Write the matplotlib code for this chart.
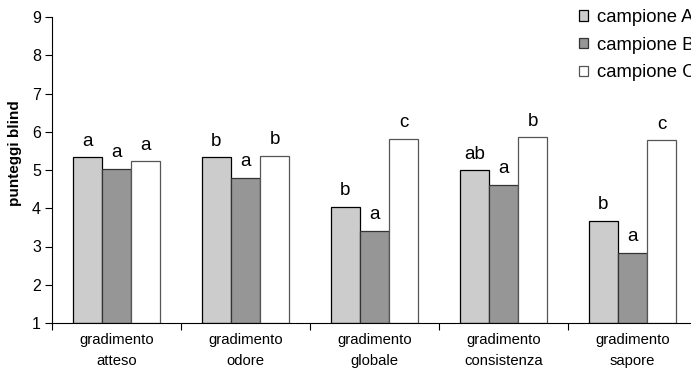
import matplotlib
matplotlib.use("Agg")
import matplotlib.pyplot as plt
import numpy as np

categories = ["gradimento\natteso", "gradimento\nodore", "gradimento\nglobale",
              "gradimento\nconsistenza", "gradimento\nsapore"]
series_names = ["campione A", "campione B", "campione C"]
values_A = [5.33, 5.33, 4.04, 4.99, 3.67]
values_B = [5.03, 4.80, 3.41, 4.62, 2.84]
values_C = [5.23, 5.37, 5.82, 5.85, 5.78]
letters_A = ["a", "b", "b", "ab", "b"]
letters_B = ["a", "a", "a", "a", "a"]
letters_C = ["a", "b", "c", "b", "c"]
y_ticks = [1, 2, 3, 4, 5, 6, 7, 8, 9]

plt.rcParams['font.family'] = ['Liberation Sans', 'DejaVu Sans']

fig = plt.figure(figsize=(6.91, 3.80), dpi=100)
ax = fig.add_axes([52/691, 1-323/380, (697-52)/691, (323-17)/380])

x = np.arange(len(categories))
w = 0.225
colors = ["#CCCCCC", "#969696", "#FFFFFF"]
edges = ["#000000", "#333333", "#555555"]
data = [values_A, values_B, values_C]
letters = [letters_A, letters_B, letters_C]
for i, (vals, lets) in enumerate(zip(data, letters)):
    pos = x + (i - 1) * w
    ax.bar(pos, np.array(vals) - 1, bottom=1, width=w, color=colors[i],
           edgecolor=edges[i], linewidth=0.9, label=series_names[i])
    for px, v, t in zip(pos, vals, lets):
        ax.annotate(t, (px, v), xytext=(0, 5.5), textcoords="offset points",
                    ha="center", va="bottom", fontsize=13.5)

ax.set_xlim(-0.5, len(categories) - 0.5)
ax.set_ylim(1, 9)
ax.set_yticks(y_ticks)
ax.set_yticklabels([str(t) for t in y_ticks], fontsize=11.5)
ax.set_xticks(np.arange(len(categories) + 1) - 0.5)
ax.set_xticklabels([])
ax.set_xticks(x, minor=True)
ax.set_xticklabels(categories, minor=True, fontsize=10.7, linespacing=1.7)
ax.tick_params(axis='x', which='minor', length=0, pad=7)
ax.tick_params(axis='x', which='major', length=5, direction='out', width=0.8)
ax.tick_params(axis='y', length=5, direction='out', width=0.8, pad=3)
ax.spines['top'].set_visible(False)
ax.spines['right'].set_visible(False)
for s in ['left', 'bottom']:
    ax.spines[s].set_linewidth(0.8)
    ax.spines[s].set_color('#000000')
ax.set_ylabel("punteggi blind", fontsize=11, fontweight='bold')
ax.yaxis.set_label_coords((22 - 52) / 645, 1 - (153 - 17) / 306)

leg = fig.legend(loc='upper left', bbox_to_anchor=(579/691, 1-9/380), frameon=False,
                 fontsize=13.3, handlelength=0.5, handleheight=0.5, handletextpad=0.45,
                 labelspacing=0.58, borderaxespad=0, borderpad=0)

fig.savefig("out.png", dpi=100)
